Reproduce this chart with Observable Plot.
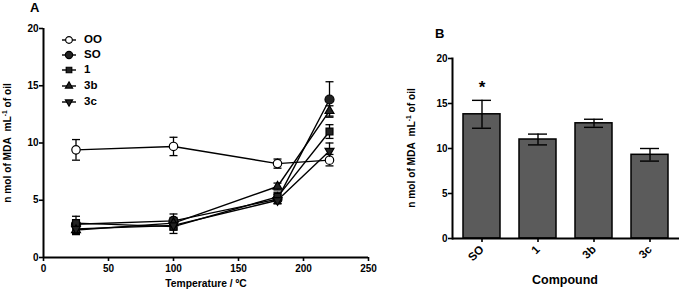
<!DOCTYPE html>
<html><head><meta charset="utf-8">
<script src="https://cdn.jsdelivr.net/npm/d3@7"></script>
<script src="https://cdn.jsdelivr.net/npm/@observablehq/plot@0.6"></script>
<style>
body{margin:0;background:#fff;font-family:"Liberation Sans",Arial,sans-serif;}
#wrap{position:relative;width:681px;height:292px;overflow:hidden;background:#fff;}
#wrap svg{position:absolute;top:0;}
.t{position:absolute;font-weight:bold;color:#000;white-space:nowrap;line-height:1;}
.rot{transform:translate(-50%,-50%) rotate(-90deg);}
sup{font-size:0.65em;vertical-align:top;position:relative;top:-0.2em;}
</style></head><body><div id="wrap"></div>
<script>
// ---- Panel A data ----
const temps = [25, 100, 180, 220];
const seriesNames = ["OO", "SO", "1", "3b", "3c"];
const valOO = [9.4, 9.7, 8.2, 8.5];
const errOO = [0.9, 0.8, 0.4, 0.5];
const valSO = [2.9, 3.2, 5.1, 13.8];
const errSO = [0.4, 0.6, 0.4, 1.55];
const val1  = [3.0, 2.7, 5.3, 11.0];
const err1  = [0.6, 0.6, 0.4, 0.6];
const val3b = [2.4, 3.0, 6.2, 12.8];
const err3b = [0.4, 0.5, 0.3, 0.45];
const val3c = [2.5, 2.8, 5.0, 9.3];
const err3c = [0.4, 0.4, 0.3, 0.7];
const xTicksA = [0, 50, 100, 150, 200, 250];
const yTicksA = [0, 5, 10, 15, 20];
// ---- Panel B data ----
const compounds = ["SO", "1", "3b", "3c"];
const valB = [13.8, 11.0, 12.8, 9.3];
const errB = [1.55, 0.6, 0.45, 0.7];
const yTicksB = [0, 5, 10, 15, 20];

const capSym = {draw(ctx, size){const r = Math.sqrt(size/Math.PI); ctx.moveTo(-r,0); ctx.lineTo(r,0);}};
const triDown = {draw(ctx, size){const y = -Math.sqrt(size/(Math.sqrt(3)*3)); ctx.moveTo(0,-y*2); ctx.lineTo(-Math.sqrt(3)*y, y); ctx.lineTo(Math.sqrt(3)*y, y); ctx.closePath();}};

const styles = {
  "OO": {symbol: "circle", fill: "white", r: 4.2},
  "SO": {symbol: "circle", fill: "#222", r: 4.5},
  "1":  {symbol: "square", fill: "#222", r: 3.9},
  "3b": {symbol: "triangle", fill: "#222", r: 3.3},
  "3c": {symbol: triDown, fill: "#222", r: 3.3}
};
const vals = {"OO": valOO, "SO": valSO, "1": val1, "3b": val3b, "3c": val3c};
const errs = {"OO": errOO, "SO": errSO, "1": err1, "3b": err3b, "3c": err3c};
const rowsA = seriesNames.map(s => temps.map((t, i) => ({s, t, v: vals[s][i], e: errs[s][i]})));

const fontStyle = {fontFamily: "'Liberation Sans', Arial, sans-serif", fontSize: "10px", fontWeight: "bold", color: "black", background: "transparent", overflow: "visible"};

const marksA = [
  Plot.ruleX([0], {stroke: "black", strokeWidth: 2}),
  Plot.ruleY([0], {stroke: "black", strokeWidth: 2}),
  Plot.axisX({ticks: xTicksA, tickSize: 4, tickPadding: 3, strokeWidth: 1.6, label: null, fontWeight: "bold"}),
  Plot.axisY({ticks: yTicksA, tickSize: 4, tickPadding: 1, strokeWidth: 1.6, label: null, fontWeight: "bold"})
];
rowsA.forEach(rows => marksA.push(Plot.line(rows, {x: "t", y: "v", stroke: "black", strokeWidth: 1.4})));
rowsA.forEach(rows => {
  marksA.push(Plot.ruleX(rows, {x: "t", y1: d => d.v - d.e, y2: d => d.v + d.e, stroke: "black", strokeWidth: 1.3}));
  marksA.push(Plot.dot(rows, {x: "t", y: d => d.v - d.e, symbol: capSym, r: 4, stroke: "black", strokeWidth: 1.3, fill: "none"}));
  marksA.push(Plot.dot(rows, {x: "t", y: d => d.v + d.e, symbol: capSym, r: 4, stroke: "black", strokeWidth: 1.3, fill: "none"}));
});
rowsA.forEach(rows => {
  const st = styles[rows[0].s];
  marksA.push(Plot.dot(rows, {x: "t", y: "v", symbol: st.symbol, r: st.r, fill: st.fill, stroke: "black", strokeWidth: 1.2}));
});

const plotA = Plot.plot({
  width: 400, height: 292, marginLeft: 43, marginRight: 32, marginTop: 28, marginBottom: 35,
  style: fontStyle,
  x: {domain: [0, 250]},
  y: {domain: [0, 20]},
  marks: marksA
});
plotA.style.left = "0px";

const rowsB = compounds.map((c, i) => ({c, v: valB[i], e: errB[i]}));
const plotB = Plot.plot({
  width: 281, height: 292, marginLeft: 52, marginRight: 2, marginTop: 58, marginBottom: 54,
  style: fontStyle,
  x: {domain: compounds, paddingInner: 0.34, paddingOuter: 0.176},
  y: {domain: [0, 20]},
  marks: [
    Plot.barY(rowsB, {x: "c", y: "v", fill: "#5b5b5b", stroke: "black", strokeWidth: 1.5}),
    Plot.ruleX(rowsB, {x: "c", y1: d => d.v - d.e, y2: d => d.v + d.e, stroke: "black", strokeWidth: 1.4}),
    Plot.tickY(rowsB, {x: "c", y: d => d.v - d.e, stroke: "black", strokeWidth: 1.4, insetLeft: 9, insetRight: 9}),
    Plot.tickY(rowsB, {x: "c", y: d => d.v + d.e, stroke: "black", strokeWidth: 1.4, insetLeft: 9, insetRight: 9}),
    Plot.text(rowsB.filter(d => d.c === "SO"), {x: "c", y: d => d.v + d.e, text: () => "*", dy: -13, fontSize: 17, fontWeight: "bold"}),
    Plot.ruleY([0], {stroke: "black", strokeWidth: 2}),
    Plot.frame({anchor: "left", stroke: "black", strokeWidth: 2}),
    Plot.axisY({ticks: yTicksB, tickSize: 4, tickPadding: 1, strokeWidth: 1.6, label: null, fontWeight: "bold"}),
    Plot.axisX({tickSize: 4, strokeWidth: 1.6, tickRotate: -45, tickPadding: 5, label: null, fontWeight: "bold", fontSize: 11.5})
  ]
});
plotB.style.left = "400px";

const wrap = document.getElementById("wrap");
wrap.appendChild(plotA);
wrap.appendChild(plotB);

function addText(html, left, top, size, cls) {
  const d = document.createElement("div");
  d.className = "t" + (cls ? " " + cls : "");
  d.innerHTML = html;
  d.style.left = left + "px"; d.style.top = top + "px"; d.style.fontSize = size + "px";
  wrap.appendChild(d);
  return d;
}
addText("A", 30, 1, 13);
addText("B", 435, 27, 13);
addText("Temperature / ºC", 206, 284, 10.3, "rot").style.transform = "translate(-50%,-50%)";
addText("Compound", 565, 280, 12.5, "rot").style.transform = "translate(-50%,-50%)";
const yLab = "n mol of MDA&nbsp; mL<sup>-1</sup> of oil";
addText(yLab, 8, 143, 10.2, "rot");
addText(yLab, 412, 148, 10.2, "rot");

// legend
const legendRows = [40, 54.5, 69.5, 86, 101.5];
seriesNames.forEach((s, i) => {
  const cy = legendRows[i];
  const svg = d3.create("svg").attr("width", 22).attr("height", 14)
    .style("position", "absolute").style("left", "58px").style("top", (cy - 7) + "px");
  svg.append("line").attr("x1", 4).attr("x2", 18).attr("y1", 7).attr("y2", 7).attr("stroke", "black").attr("stroke-width", 1.4);
  const st = styles[s];
  const type = typeof st.symbol === "string" ? {circle: d3.symbolCircle, square: d3.symbolSquare, triangle: d3.symbolTriangle}[st.symbol] : st.symbol;
  const r = st.r * 0.8;
  svg.append("path").attr("d", d3.symbol(type, Math.PI * r * r)()).attr("transform", "translate(11,7)")
    .attr("fill", st.fill).attr("stroke", "black").attr("stroke-width", 1.2);
  wrap.appendChild(svg.node());
  addText(s, 84, cy, 11.5, "rot").style.transform = "translate(0,-50%)";
});
</script></body></html>
